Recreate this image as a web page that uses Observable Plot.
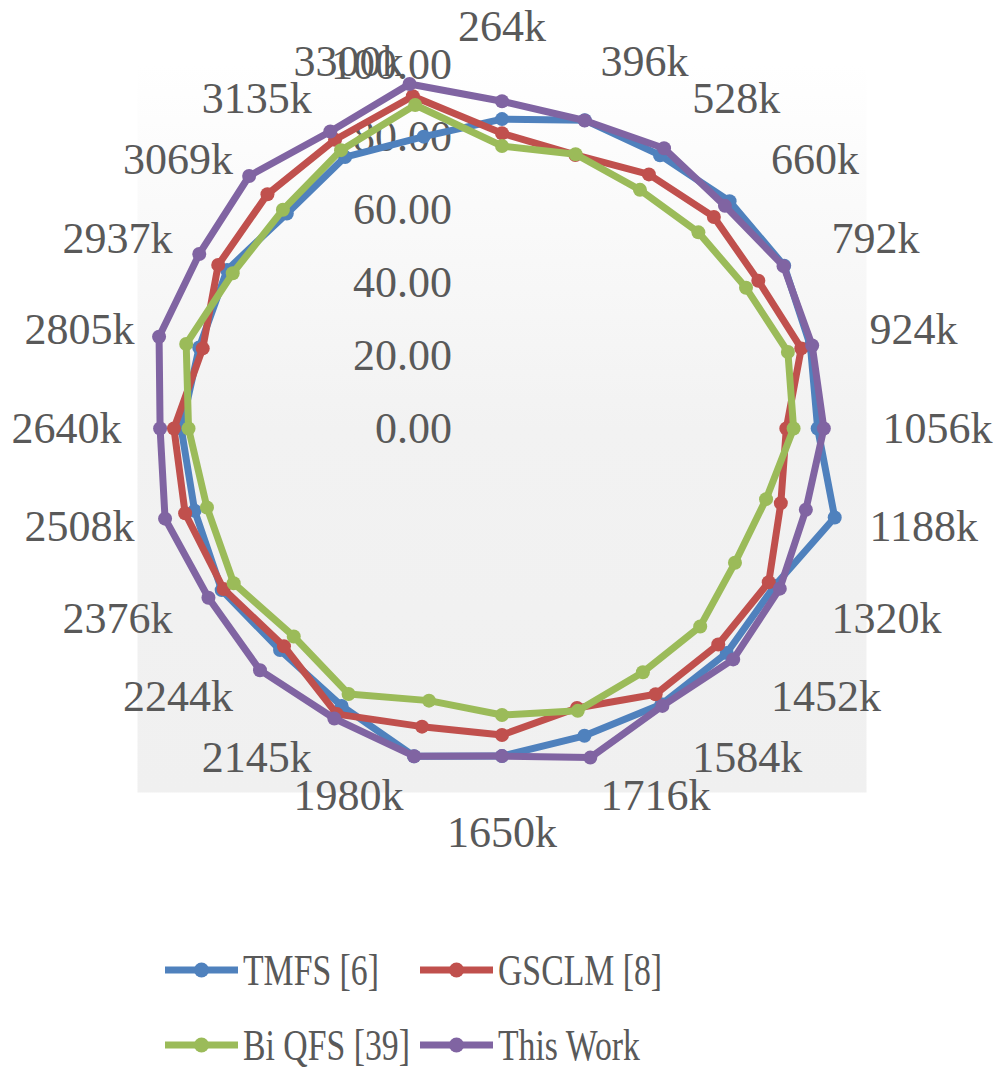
<!DOCTYPE html>
<html><head><meta charset="utf-8">
<script src="https://cdn.jsdelivr.net/npm/d3@7"></script>
<script src="https://cdn.jsdelivr.net/npm/@observablehq/plot@0.6"></script>
<style>
body{margin:0;background:#fff;font-family:"Liberation Serif",serif;}
#chart{position:relative;width:1003px;height:880px;}
#legend{position:relative;width:1003px;height:196px;}
.item{position:absolute;display:flex;align-items:center;height:50px;}
.item svg{flex:none;margin-right:5px;}
.item span{display:inline-block;font-size:45px;color:#595959;transform:scaleX(0.75);transform-origin:left center;white-space:nowrap;line-height:1;}
</style></head><body>
<div id="chart"></div>
<div id="legend"></div>
<script>
const categories = ["264k","396k","528k","660k","792k","924k","1056k","1188k","1320k","1452k","1584k","1716k","1650k","1980k","2145k","2244k","2376k","2508k","2640k","2805k","2937k","3069k","3135k","3300k"];
const seriesNames = ["TMFS [6]","GSCLM [8]","Bi QFS [39]","This Work"];
const tmfs     = [85.0, 87.7, 86.7, 88.3, 89.4, 87.6, 86.6, 94.5, 86.4, 87.2, 87.5, 87.4, 90.0, 93.2, 88.0, 86.1, 88.8, 87.3, 88.0, 86.0, 87.1, 83.5, 86.1, 83.0];
const gsclm    = [81.1, 77.8, 80.6, 82.2, 81.2, 85.0, 78.0, 79.2, 84.5, 83.9, 84.3, 79.5, 84.2, 84.8, 90.6, 84.6, 88.2, 90.0, 90.0, 85.0, 89.9, 91.0, 91.6, 94.5];
const biqfs    = [77.6, 78.0, 75.7, 76.2, 77.3, 81.2, 80.0, 75.0, 73.8, 76.9, 77.3, 80.3, 78.7, 77.4, 84.2, 80.8, 85.0, 83.8, 86.0, 89.7, 85.3, 85.0, 88.3, 92.0];
const thisWork = [89.9, 87.6, 88.9, 86.5, 89.2, 88.1, 88.3, 86.3, 88.0, 89.7, 88.0, 93.6, 90.0, 93.2, 92.0, 93.9, 93.0, 95.7, 93.8, 97.4, 95.9, 98.1, 94.2, 98.0];
const radialTicks = [0, 20, 40, 60, 80, 100];
const colors = ["#4F81BD", "#C0504D", "#9BBB59", "#8064A2"];

const seriesValues = [tmfs, gsclm, biqfs, thisWork];
const n = categories.length;
const angle = i => i * 2 * Math.PI / n;

const rows = [];
seriesNames.forEach((s, k) => {
  seriesValues[k].forEach((v, i) => {
    rows.push({series: s, category: categories[i], value: v,
      x: v * Math.sin(angle(i)), y: v * Math.cos(angle(i))});
  });
});

const labelR = 104.4, labelRTop = 110.4, labelRBottom = 111.2;
const labels = categories.map((c, i) => {
  const r = i === 0 ? labelRTop : (i === n / 2 ? labelRBottom : labelR);
  return {label: c, i, x: r * Math.sin(angle(i)), y: r * Math.cos(angle(i))};
});
const labelsRight = labels.filter(d => d.i > 0 && d.i < n / 2);
const labelsLeft = labels.filter(d => d.i > n / 2);
const labelsMid = labels.filter(d => d.i === 0 || d.i === n / 2);

const textStyle = {fontSize: 44, fontFamily: "Liberation Serif", fill: "#595959", lineAnchor: "middle"};

const marks = [
  Plot.frame({fill: "url(#bg)", stroke: "none"}),
  Plot.text(radialTicks, {x: () => 0, y: d => d, text: d => d3.format(".2f")(d), textAnchor: "end", dx: -50, ...textStyle}),
];
seriesNames.forEach(s => {
  const data = rows.filter(d => d.series === s);
  marks.push(Plot.line(data, {x: "x", y: "y", stroke: "series", strokeWidth: 7, curve: "linear-closed", strokeLinejoin: "round"}));
  marks.push(Plot.dot(data, {x: "x", y: "y", fill: "series", r: 7, stroke: "none"}));
});
marks.push(
  Plot.text(labelsRight, {x: "x", y: "y", text: "label", textAnchor: "start", ...textStyle}),
  Plot.text(labelsLeft, {x: "x", y: "y", text: "label", textAnchor: "end", ...textStyle}),
  Plot.text(labelsMid, {x: "x", y: "y", text: "label", textAnchor: "middle", ...textStyle})
);

const chart = Plot.plot({
  width: 1003,
  height: 880,
  marginLeft: 137,
  marginRight: 137,
  marginTop: 64,
  marginBottom: 88,
  x: {domain: [-100, 100], axis: null},
  y: {domain: [-100, 100], axis: null},
  color: {domain: seriesNames, range: colors},
  style: {background: "transparent", overflow: "visible"},
  marks
});

const svg = d3.select(chart);
const defs = svg.insert("defs", ":first-child");
const grad = defs.append("linearGradient").attr("id", "bg").attr("x1", 0).attr("y1", 0).attr("x2", 0).attr("y2", 1);
grad.append("stop").attr("offset", "0").attr("stop-color", "#ffffff");
grad.append("stop").attr("offset", "0.5").attr("stop-color", "#f2f2f2");
grad.append("stop").attr("offset", "1").attr("stop-color", "#f0f0f0");
svg.selectAll('[aria-label="frame"]').attr("fill", "url(#bg)");
svg.selectAll('[aria-label="frame"] rect').attr("fill", "url(#bg)");
document.getElementById("chart").appendChild(chart);

// legend
const legend = d3.select("#legend");
const positions = [[165, 65], [420, 65], [165, 140], [420, 140]];
seriesNames.forEach((s, k) => {
  const item = legend.append("div").attr("class", "item")
    .style("left", positions[k][0] + "px").style("top", positions[k][1] + "px");
  const sw = item.append("svg").attr("width", 73).attr("height", 20);
  sw.append("line").attr("x1", 0).attr("x2", 73).attr("y1", 10).attr("y2", 10)
    .attr("stroke", colors[k]).attr("stroke-width", 7);
  sw.append("circle").attr("cx", 36.5).attr("cy", 10).attr("r", 7.5).attr("fill", colors[k]);
  item.append("span").text(s);
});
</script>
</body></html>
